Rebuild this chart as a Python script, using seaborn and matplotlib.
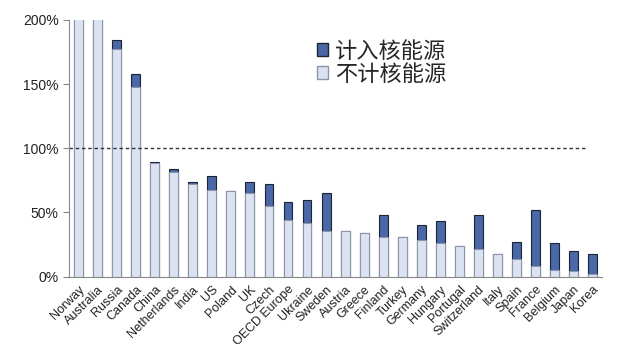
import matplotlib
matplotlib.use("Agg")
import matplotlib.pyplot as plt
import seaborn as sns
import pandas as pd
from matplotlib.patches import Patch

countries = ["Norway", "Australia", "Russia", "Canada", "China", "Netherlands", "India", "US",
             "Poland", "UK", "Czech", "OECD Europe", "Ukraine", "Sweden", "Austria", "Greece",
             "Finland", "Turkey", "Germany", "Hungary", "Portugal", "Switzerland", "Italy",
             "Spain", "France", "Belgium", "Japan", "Korea"]
without_nuclear = [700, 250, 177.5, 148, 88.4, 81.8, 72.5, 67.6, 66.5, 65.2, 54.9, 44.2, 41.6,
                   35.9, 35.6, 34.3, 30.9, 30.9, 28.8, 26.5, 23.9, 21.6, 17.5, 14.0, 8.6, 5.5, 4.4, 1.8]
with_nuclear = [700, 250, 184.5, 158, 89.6, 83.7, 73.6, 78.0, 66.5, 73.8, 72.0, 58.0, 59.8,
                65.5, 35.6, 34.3, 47.8, 30.9, 40.3, 43.2, 23.9, 48.3, 17.5, 27.0, 52.0, 26.5, 20.0, 17.9]
yticks = [0, 50, 100, 150, 200]
legend_labels = ["计入核能源", "不计核能源"]

df = pd.DataFrame({"country": countries, "without": without_nuclear, "with": with_nuclear})

sns.set_style("white")
plt.rcParams["font.family"] = ["Liberation Sans", "DejaVu Sans"]

fig = plt.figure(figsize=(6.41, 3.44), dpi=100)
ax = fig.add_axes([0.108, 0.196, 0.831, 0.746])

dark = "#4a67a6"
light = "#dbe3f2"
sns.barplot(data=df, x="country", y="with", color=dark, width=0.47, ax=ax,
            edgecolor="#1c2438", linewidth=0.8, saturation=1)
sns.barplot(data=df, x="country", y="without", color=light, width=0.47, ax=ax,
            edgecolor="#8c95aa", linewidth=0.8, saturation=1)

n = len(countries)
ax.set_xlim(-0.5, n - 0.5)
ax.set_ylim(0, 200)
ax.hlines(100, -0.5, n - 1.3, colors="#333333", linestyles=(0, (2.5, 2)), linewidth=1.0)

ax.set_yticks(yticks)
ax.set_yticklabels([f"{v}%" for v in yticks], fontsize=10, color="#222222")
ax.set_xticks(range(n))
ax.set_xticklabels(countries, rotation=45, ha="right", rotation_mode="anchor",
                   fontsize=9, color="#222222")
ax.tick_params(axis="x", which="major", length=0, pad=5)
ax.set_xticks([i + 0.5 for i in range(-1, n)], minor=True)
ax.tick_params(axis="x", which="minor", length=4, direction="out", color="#888888", width=0.8)
ax.tick_params(axis="y", length=4, direction="out", color="#888888", width=0.8, left=True)
ax.set_xlabel("")
ax.set_ylabel("")
for s in ["top", "right"]:
    ax.spines[s].set_visible(False)
for s in ["left", "bottom"]:
    ax.spines[s].set_color("#888888")
    ax.spines[s].set_linewidth(0.8)

handles = [Patch(facecolor=dark, edgecolor="#1c2438"), Patch(facecolor=light, edgecolor="#8c95aa")]
leg = ax.legend(handles, legend_labels, loc="upper left", bbox_to_anchor=(0.449, 0.958),
                frameon=False, prop={"family": ["Noto Sans CJK SC", "DejaVu Sans"], "size": 16},
                handlelength=0.5, handleheight=0.5, handletextpad=0.3, labelspacing=0.0,
                borderaxespad=0)

fig.savefig("out.png", dpi=100)
